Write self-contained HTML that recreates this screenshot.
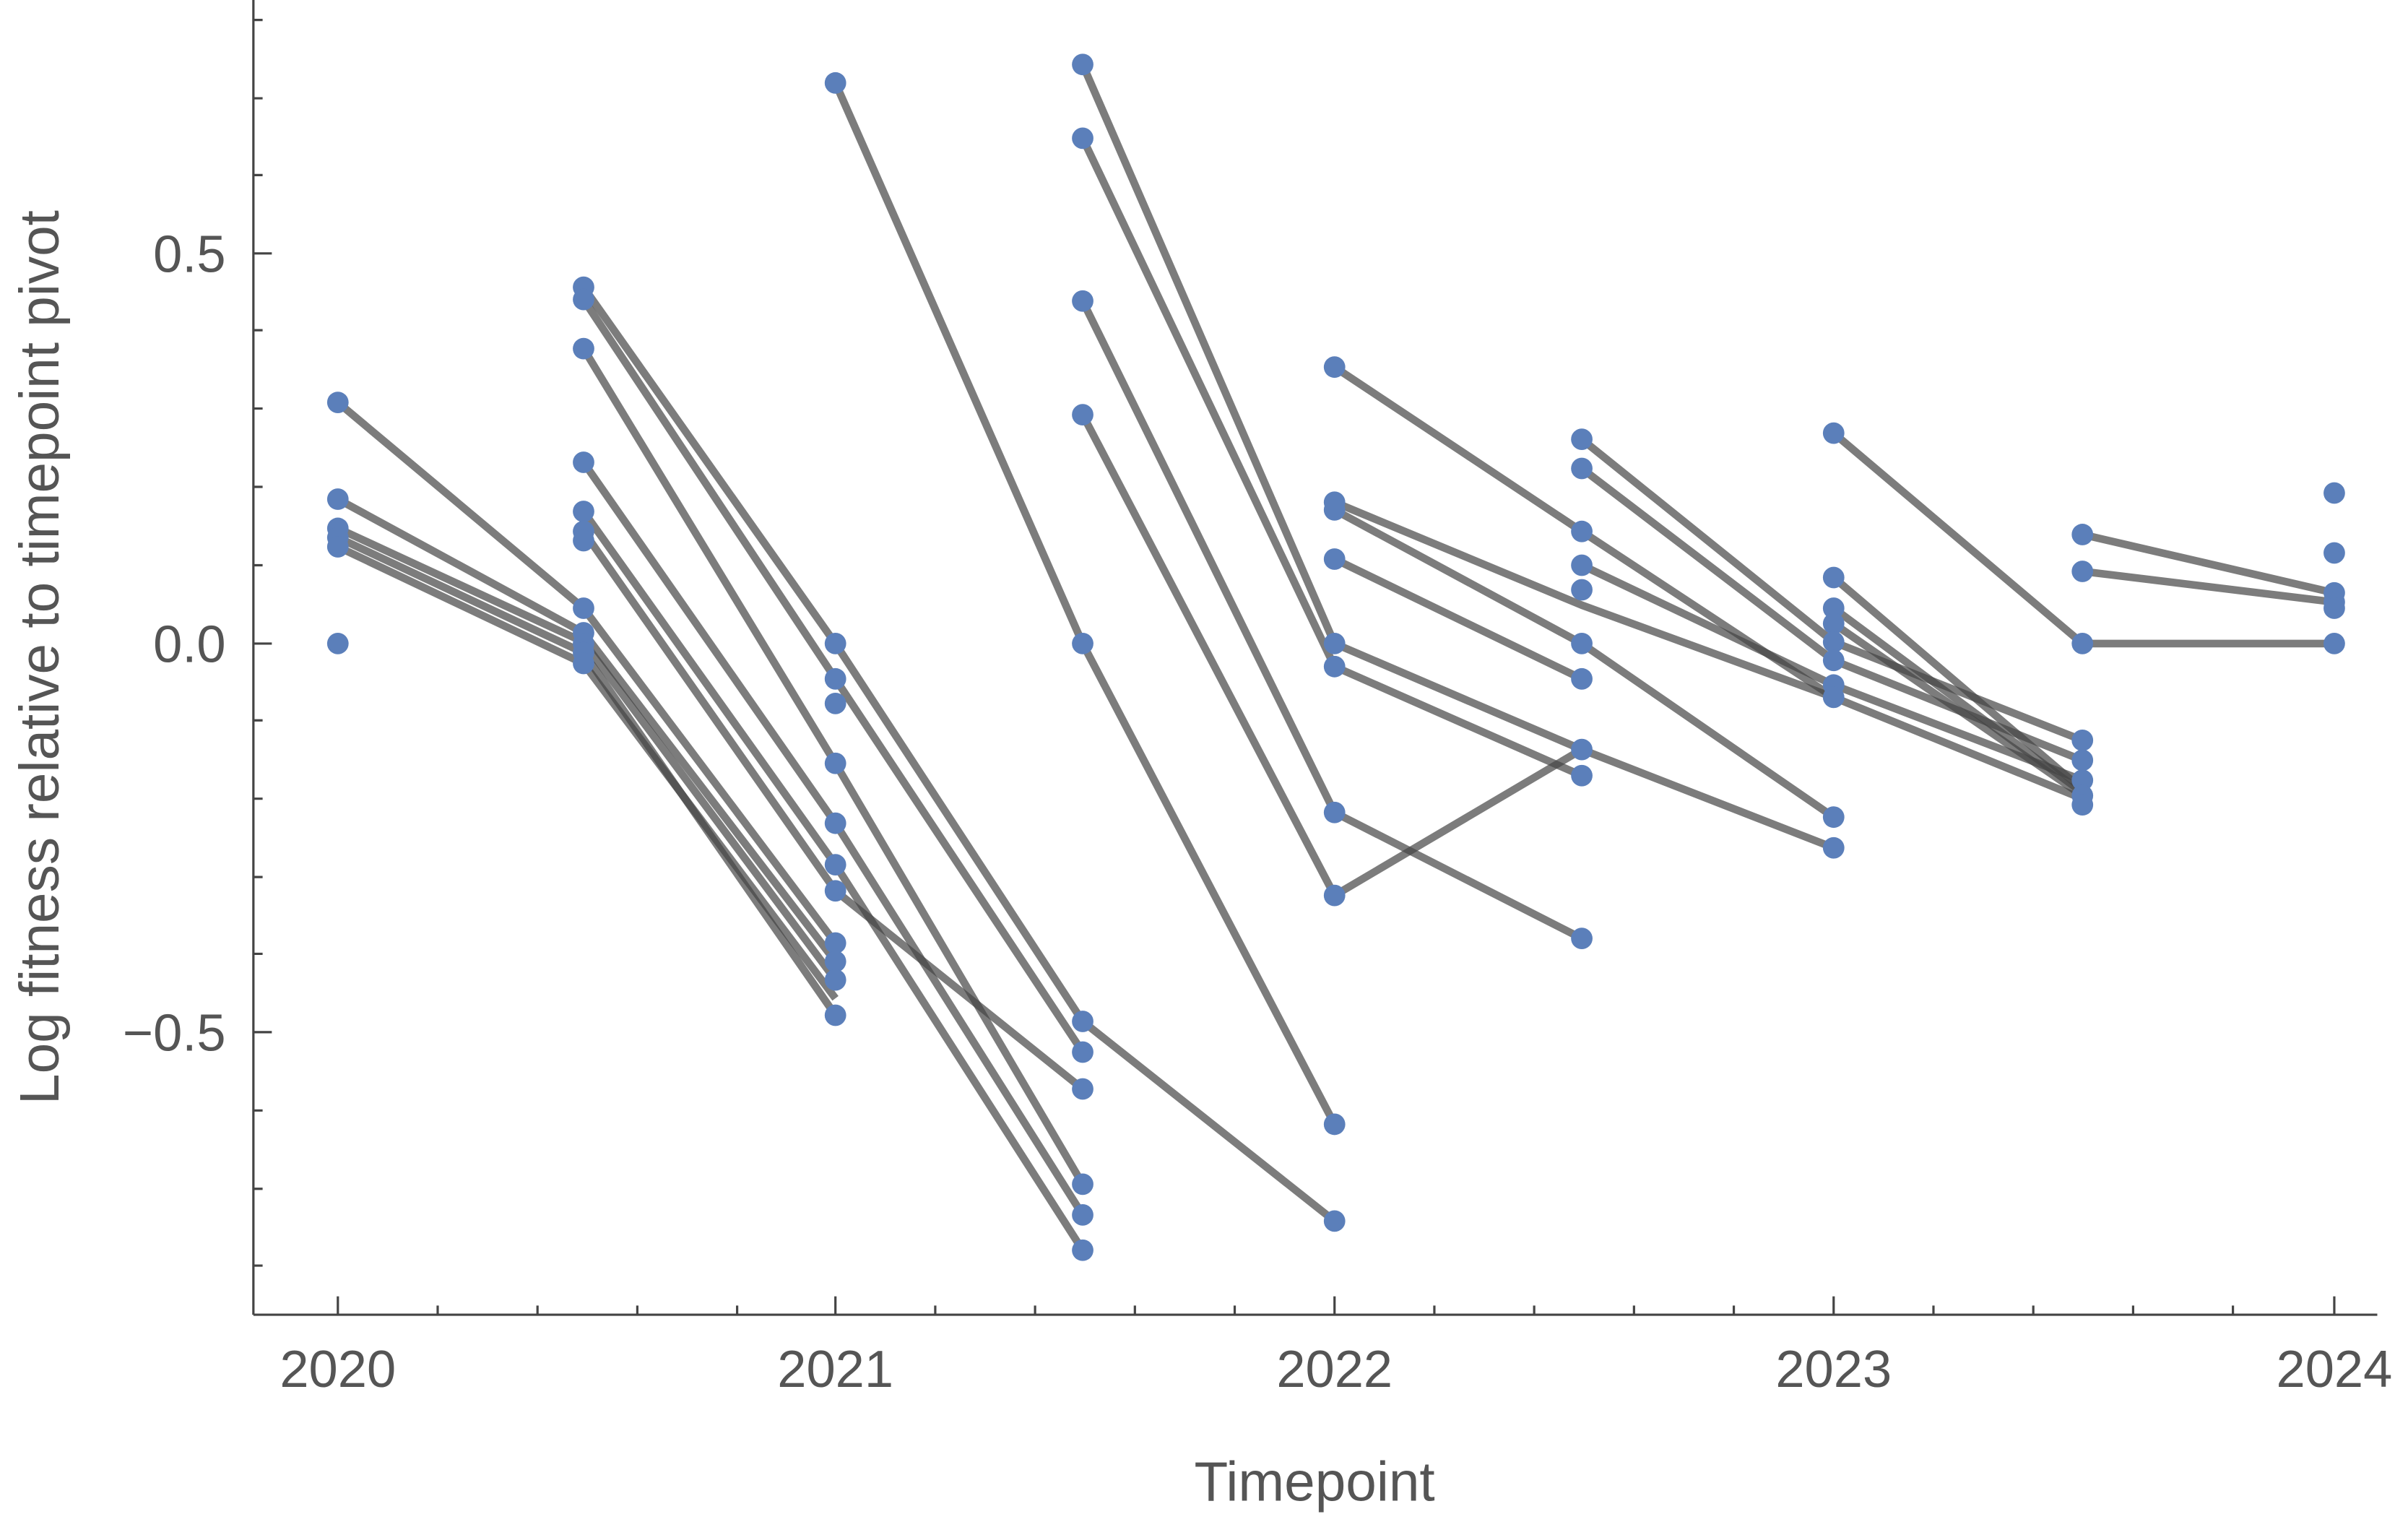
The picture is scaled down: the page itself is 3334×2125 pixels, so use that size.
<!DOCTYPE html>
<html><head><meta charset="utf-8"><style>
html,body{margin:0;padding:0;background:#fff;}
svg{display:block;}
text{font-family:"Liberation Sans",sans-serif;fill:#555;}
</style></head><body>
<svg width="3334" height="2125" viewBox="0 0 1568 999.4" preserveAspectRatio="none" xmlns="http://www.w3.org/2000/svg">
<g stroke="#444" stroke-width="1.5" fill="none">
<line x1="165" y1="0" x2="165" y2="856"/>
<line x1="165" y1="856" x2="1548" y2="856"/>
<path d="M165 165h12M165 419h12M165 672h12
M165 13h6M165 64h6M165 114h6M165 215h6M165 266h6M165 317h6M165 368h6M165 469h6M165 520h6M165 571h6M165 621h6M165 723h6M165 774h6M165 824h6"/>
<path d="M220 856v-12M544 856v-12M869 856v-12M1194 856v-12M1520 856v-12
M285 856v-6M350 856v-6M415 856v-6M480 856v-6M609 856v-6M674 856v-6M739 856v-6M804 856v-6M934 856v-6M999 856v-6M1064 856v-6M1129 856v-6M1259 856v-6M1324 856v-6M1389 856v-6M1454 856v-6"/>
</g>
<g font-size="34" text-anchor="end">
<text x="147" y="177">0.5</text>
<text x="147" y="431">0.0</text>
<text x="147" y="684">−0.5</text>
</g>
<g font-size="34" text-anchor="middle">
<text x="220" y="903">2020</text>
<text x="544" y="903">2021</text>
<text x="869" y="903">2022</text>
<text x="1194" y="903">2023</text>
<text x="1520" y="903">2024</text>
<text x="856" y="977" font-size="36">Timepoint</text>
<text transform="translate(38,428) rotate(-90)" font-size="36">Log fitness relative to timepoint pivot</text>
</g>
<g stroke="#444" stroke-opacity="0.7" stroke-width="5" fill="none" stroke-linejoin="round">
<polyline points="220,262 380,396 544,614"/>
<polyline points="220,325 380,412 544,626"/>
<polyline points="220,344 380,418 544,638"/>
<polyline points="220,350 380,425 544,661"/>
<polyline points="220,356 380,432 544,650"/>
<polyline points="380,187 544,419 705,665 869,795"/>
<polyline points="380,195 544,442 705,685"/>
<polyline points="380,227 544,497 705,771"/>
<polyline points="380,301 544,536 705,791"/>
<polyline points="380,333 544,563 705,814"/>
<polyline points="380,346 544,580 705,709"/>
<polyline points="544,54 705,419 869,732"/>
<polyline points="705,42 869,419 1030,488 1194,552"/>
<polyline points="705,90 869,434 1030,505"/>
<polyline points="705,196 869,529 1030,611"/>
<polyline points="705,270 869,583 1030,488"/>
<polyline points="869,239 1030,346 1194,454"/>
<polyline points="869,327 1030,394 1194,454 1356,520"/>
<polyline points="869,332 1030,419 1194,532"/>
<polyline points="869,364 1030,442"/>
<polyline points="1030,286 1194,418 1356,482"/>
<polyline points="1030,305 1194,430 1356,495"/>
<polyline points="1030,368 1194,446 1356,508"/>
<polyline points="1194,282 1356,419 1520,419"/>
<polyline points="1194,376 1356,514"/>
<polyline points="1194,396 1356,516"/>
<polyline points="1194,406 1356,518"/>
<polyline points="1356,348 1520,386"/>
<polyline points="1356,372 1520,392"/>
</g>
<g fill="#5b7fba">
<circle cx="220" cy="262" r="7"/><circle cx="220" cy="325" r="7"/><circle cx="220" cy="344" r="7"/><circle cx="220" cy="350" r="7"/><circle cx="220" cy="356" r="7"/><circle cx="220" cy="419" r="7"/>
<circle cx="380" cy="187" r="7"/><circle cx="380" cy="195" r="7"/><circle cx="380" cy="227" r="7"/><circle cx="380" cy="301" r="7"/><circle cx="380" cy="333" r="7"/><circle cx="380" cy="346" r="7"/><circle cx="380" cy="352" r="7"/><circle cx="380" cy="396" r="7"/><circle cx="380" cy="412" r="7"/><circle cx="380" cy="419" r="7"/><circle cx="380" cy="425" r="7"/><circle cx="380" cy="432" r="7"/>
<circle cx="544" cy="54" r="7"/><circle cx="544" cy="419" r="7"/><circle cx="544" cy="442" r="7"/><circle cx="544" cy="458" r="7"/><circle cx="544" cy="497" r="7"/><circle cx="544" cy="536" r="7"/><circle cx="544" cy="563" r="7"/><circle cx="544" cy="580" r="7"/><circle cx="544" cy="614" r="7"/><circle cx="544" cy="626" r="7"/><circle cx="544" cy="638" r="7"/><circle cx="544" cy="661" r="7"/>
<circle cx="705" cy="42" r="7"/><circle cx="705" cy="90" r="7"/><circle cx="705" cy="196" r="7"/><circle cx="705" cy="270" r="7"/><circle cx="705" cy="419" r="7"/><circle cx="705" cy="665" r="7"/><circle cx="705" cy="685" r="7"/><circle cx="705" cy="709" r="7"/><circle cx="705" cy="771" r="7"/><circle cx="705" cy="791" r="7"/><circle cx="705" cy="814" r="7"/>
<circle cx="869" cy="239" r="7"/><circle cx="869" cy="327" r="7"/><circle cx="869" cy="332" r="7"/><circle cx="869" cy="364" r="7"/><circle cx="869" cy="419" r="7"/><circle cx="869" cy="434" r="7"/><circle cx="869" cy="529" r="7"/><circle cx="869" cy="583" r="7"/><circle cx="869" cy="732" r="7"/><circle cx="869" cy="795" r="7"/>
<circle cx="1030" cy="286" r="7"/><circle cx="1030" cy="305" r="7"/><circle cx="1030" cy="346" r="7"/><circle cx="1030" cy="368" r="7"/><circle cx="1030" cy="384" r="7"/><circle cx="1030" cy="419" r="7"/><circle cx="1030" cy="442" r="7"/><circle cx="1030" cy="488" r="7"/><circle cx="1030" cy="505" r="7"/><circle cx="1030" cy="611" r="7"/>
<circle cx="1194" cy="282" r="7"/><circle cx="1194" cy="376" r="7"/><circle cx="1194" cy="396" r="7"/><circle cx="1194" cy="406" r="7"/><circle cx="1194" cy="418" r="7"/><circle cx="1194" cy="430" r="7"/><circle cx="1194" cy="446" r="7"/><circle cx="1194" cy="454" r="7"/><circle cx="1194" cy="532" r="7"/><circle cx="1194" cy="552" r="7"/>
<circle cx="1356" cy="348" r="7"/><circle cx="1356" cy="372" r="7"/><circle cx="1356" cy="419" r="7"/><circle cx="1356" cy="482" r="7"/><circle cx="1356" cy="495" r="7"/><circle cx="1356" cy="508" r="7"/><circle cx="1356" cy="518" r="7"/><circle cx="1356" cy="524" r="7"/>
<circle cx="1520" cy="321" r="7"/><circle cx="1520" cy="360" r="7"/><circle cx="1520" cy="386" r="7"/><circle cx="1520" cy="392" r="7"/><circle cx="1520" cy="396" r="7"/><circle cx="1520" cy="419" r="7"/>
</g>
</svg>
</body></html>
